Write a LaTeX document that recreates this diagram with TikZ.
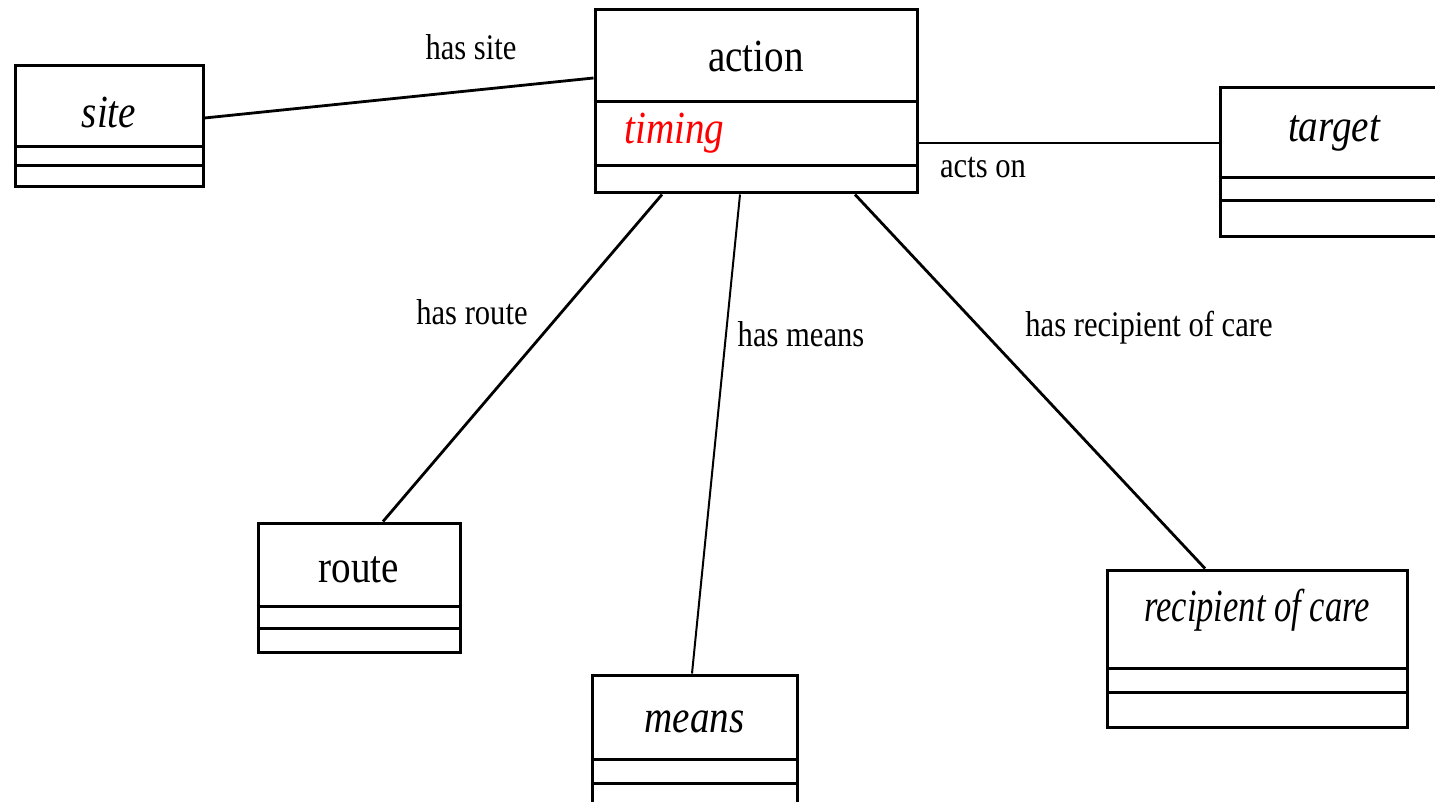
\documentclass[tikz,border=0pt]{standalone}
\usepackage{fontspec}
\setmainfont{Liberation Serif}[FakeStretch=0.85]
\newfontfamily\tightfont{Liberation Serif}[FakeStretch=0.75]
\begin{document}
\begin{tikzpicture}[x=0.5pt,y=-0.5pt,
  box/.style={draw, line width=1.5pt, rectangle, inner sep=0pt},
  comp/.style={line width=1.5pt},
  conn/.style={line width=1.4pt},
  title/.style={font=\fontsize{23}{27}\selectfont, inner sep=0pt},
  lbl/.style={font=\fontsize{18}{22}\selectfont, inner sep=0pt}]
\useasboundingbox[fill=white] (0,0) rectangle (1435,802);
% boxes
\node[box, minimum width=94pt, minimum height=60.5pt] (site) at (109,126.5) {};
\node[box, minimum width=161pt, minimum height=91.5pt] (action) at (756,101.5) {};
\node[box, minimum width=114pt, minimum height=74.5pt] (target) at (1334,162.5) {};
\node[box, minimum width=101pt, minimum height=64.5pt] (route) at (359,587.5) {};
\node[box, minimum width=102.5pt, minimum height=70pt] (means) at (694.5,745) {};
\node[box, minimum width=150pt, minimum height=78.5pt] (recipient) at (1257,648.5) {};
% compartments
\draw[comp] (site.west |- 0,147) -- (site.east |- 0,147);
\draw[comp] (site.west |- 0,166) -- (site.east |- 0,166);
\draw[comp] (action.west |- 0,102) -- (action.east |- 0,102);
\draw[comp] (action.west |- 0,166) -- (action.east |- 0,166);
\draw[comp] (target.west |- 0,178) -- (target.east |- 0,178);
\draw[comp] (target.west |- 0,201) -- (target.east |- 0,201);
\draw[comp] (route.west |- 0,606) -- (route.east |- 0,606);
\draw[comp] (route.west |- 0,628) -- (route.east |- 0,628);
\draw[comp] (means.west |- 0,759) -- (means.east |- 0,759);
\draw[comp] (means.west |- 0,783) -- (means.east |- 0,783);
\draw[comp] (recipient.west |- 0,668) -- (recipient.east |- 0,668);
\draw[comp] (recipient.west |- 0,692) -- (recipient.east |- 0,692);
% titles
\node[title] (tsite) at (109,112) {\itshape site};
\node[title] (taction) at (756,56) {action};
\node[title, text=red, anchor=west] (ttiming) at (624,133) {\itshape timing};
\node[title] (ttarget) at (1334,133) {\itshape target};
\node[title] (troute) at (359,570) {route};
\node[title] (tmeans) at (694.5,722) {\itshape means};
\node[title] (trecipient) at (1257,610) {\tightfont\itshape recipient of care};
% connectors
\draw[conn] (site.east |- 0,118) -- (action.west |- 0,78);
\draw[conn] (action.east |- 0,143) -- (target.west |- 0,143);
\draw[conn] (action.south -| 662,0) -- (route.north -| 383,0);
\draw[line width=1pt] (action.south -| 740,0) -- (means.north -| 692,0);
\draw[conn] (action.south -| 855,0) -- (recipient.north -| 1205,0);
% labels
\node[lbl] (lsite) at (471,47) {has site};
\node[lbl] (lacts) at (983,168) {acts on};
\node[lbl] (lroute) at (472,312) {has route};
\node[lbl] (lmeans) at (801,334) {has means};
\node[lbl] (lrecip) at (1149,328) {has recipient of care};
\end{tikzpicture}
\end{document}
